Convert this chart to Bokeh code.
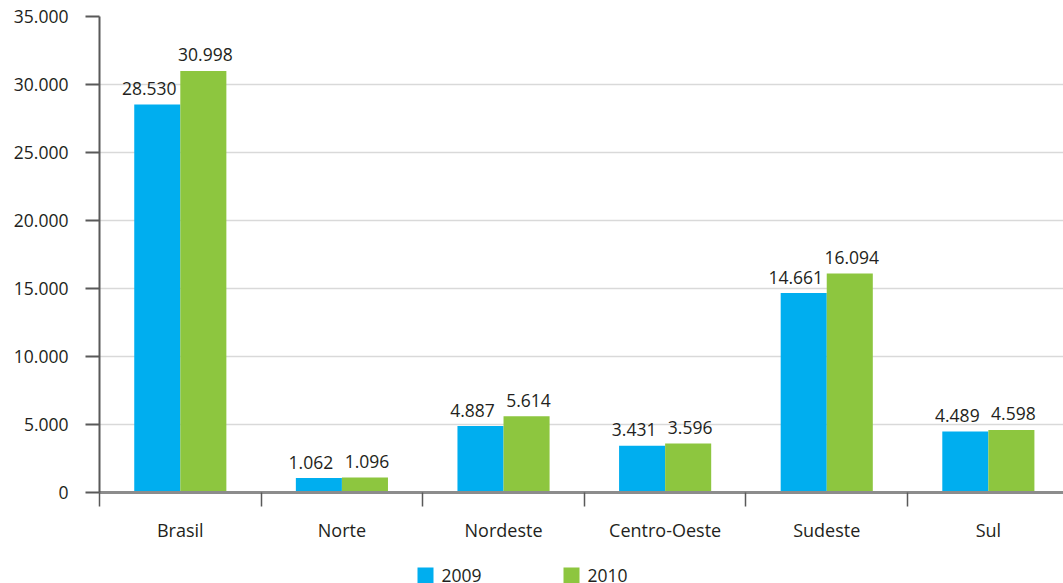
from bokeh.plotting import figure
from bokeh.layouts import column
from bokeh.models import Range1d, FixedTicker, ColumnDataSource
from bokeh.core.properties import value
from bokeh.embed import file_html
from bokeh.resources import INLINE

# Data
regions = ["Brasil", "Norte", "Nordeste", "Centro-Oeste", "Sudeste", "Sul"]
values_2009 = [28530, 1062, 4887, 3431, 14661, 4489]
values_2010 = [30998, 1096, 5614, 3596, 16094, 4598]
series_names = ["2009", "2010"]
y_ticks = [0, 5000, 10000, 15000, 20000, 25000, 30000, 35000]


def fmt(v):
    return f"{v:,}".replace(",", ".")


FONT = "Open Sans"
FS = "17.5px"
TEXT = "#231f20"
AXIS = "#595959"
BLUE = "#00aeef"
GREEN = "#8dc63f"
BAR_W = 0.285
W = 1063
LEFT = 99
MAIN_H = 552
LEG_H = 31

p = figure(width=W, height=MAIN_H, output_backend="svg", toolbar_location=None,
           x_range=Range1d(0, 5.965), y_range=Range1d(0, 35000),
           min_border_left=LEFT, min_border_right=0, min_border_top=16,
           min_border_bottom=60, outline_line_color=None)
p.background_fill_color = "white"
p.border_fill_color = "white"

centers = [i + 0.5 for i in range(len(regions))]
src09 = ColumnDataSource(dict(x=[c - BAR_W / 2 for c in centers], top=values_2009,
                              label=[fmt(v) for v in values_2009]))
src10 = ColumnDataSource(dict(x=[c + BAR_W / 2 for c in centers], top=values_2010,
                              label=[fmt(v) for v in values_2010]))

p.vbar(x="x", top="top", width=BAR_W, source=src09, fill_color=BLUE, line_color=None)
p.vbar(x="x", top="top", width=BAR_W, source=src10, fill_color=GREEN, line_color=None)

for src, dx in ((src09, -8), (src10, 2)):
    p.text(x="x", y="top", text="label", source=src, text_align="center",
           text_baseline="middle", x_offset=dx, y_offset=-16,
           text_font=value(FONT), text_font_size=FS, text_color=TEXT)

# Grid
p.xgrid.grid_line_color = None
p.ygrid.grid_line_color = "#d9d9d9"
p.ygrid.grid_line_width = 1.5
p.ygrid.ticker = FixedTicker(ticks=y_ticks)

# Y axis
ya = p.yaxis[0]
ya.ticker = FixedTicker(ticks=y_ticks)
ya.major_label_overrides = {t: fmt(t) for t in y_ticks}
ya.major_tick_out = 14
ya.major_tick_in = 0
ya.minor_tick_line_color = None
ya.axis_line_color = AXIS
ya.axis_line_width = 2
ya.major_tick_line_color = AXIS
ya.major_tick_line_width = 2
ya.major_label_standoff = 17
ya.major_label_text_font = FONT
ya.major_label_text_font_size = FS
ya.major_label_text_color = TEXT

# X axis: labels at region centres, ticks at region boundaries
xa = p.xaxis[0]
xa.ticker = FixedTicker(ticks=centers, minor_ticks=list(range(len(regions) + 1)))
xa.major_label_overrides = {c: name for c, name in zip(centers, regions)}
xa.major_tick_line_color = None
xa.major_tick_out = 0
xa.major_tick_in = 0
xa.minor_tick_out = 14
xa.minor_tick_in = 0
xa.minor_tick_line_color = AXIS
xa.minor_tick_line_width = 1.5
xa.axis_line_color = "#8c8c8c"
xa.axis_line_width = 3
xa.major_label_standoff = 11
xa.major_label_text_font = FONT
xa.major_label_text_font_size = "18px"
xa.major_label_text_color = TEXT

# Legend strip below the chart; its frame lines up with the chart frame,
# so the x range is expressed in page pixels
leg = figure(width=W, height=LEG_H, output_backend="svg", toolbar_location=None,
             x_range=Range1d(LEFT, W), y_range=Range1d(0, LEG_H),
             min_border_left=LEFT, min_border_right=0, min_border_top=0,
             min_border_bottom=0, outline_line_color=None,
             x_axis_type=None, y_axis_type=None)
leg.grid.visible = False
leg.background_fill_color = "white"
leg.border_fill_color = "white"
swatch_left = [417, 563]
leg.quad(left=swatch_left, right=[x + 16 for x in swatch_left],
         bottom=[0, 0], top=[16, 16], fill_color=[BLUE, GREEN], line_color=None)
leg.text(x=[x + 24 for x in swatch_left], y=[8, 8], text=series_names,
         text_align="left", text_baseline="middle",
         text_font=value(FONT), text_font_size=FS, text_color=TEXT)

layout = column(p, leg, spacing=0)
open("out.html", "w").write(file_html(layout, INLINE))
